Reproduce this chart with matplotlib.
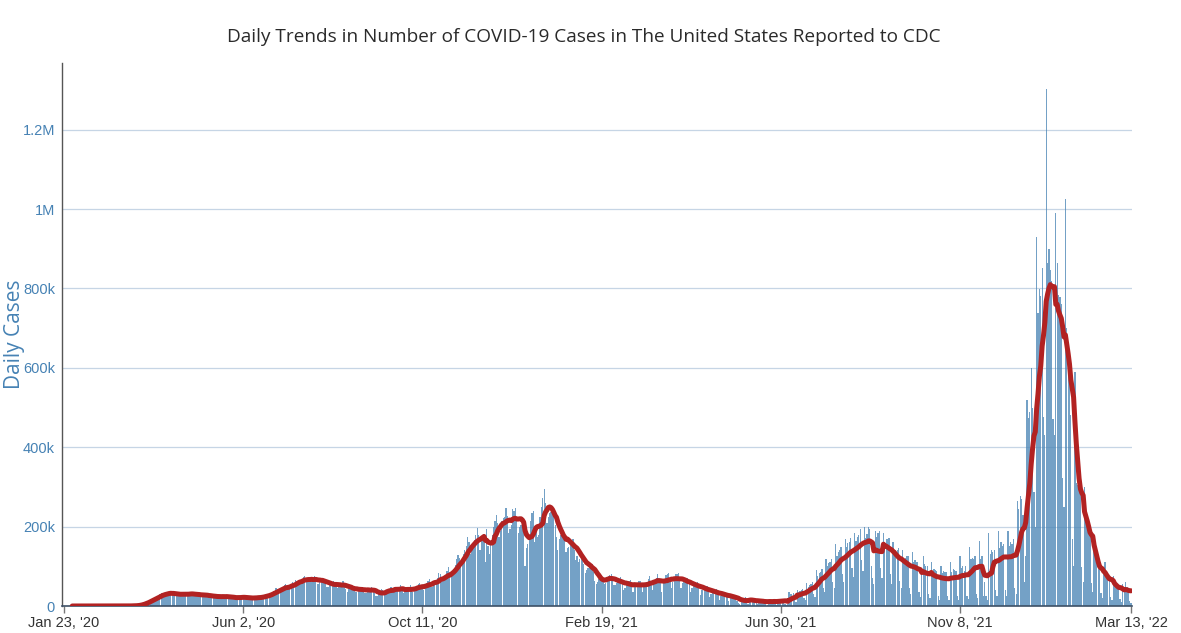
import numpy as np
import pandas as pd
import matplotlib
matplotlib.use("Agg")
import matplotlib.pyplot as plt

# daily reported cases (thousands), one list per month
jan20 = [0, 0, 0, 0, 0, 0, 0, 0, 0]
feb20 = [0, 0, 0, 0, 0, 0, 0, 0, 0, 0, 0, 0, 0, 0, 0, 0, 0, 0, 0, 0,
         0, 0, 0, 0, 0, 0, 0, 0, 0.01]
mar20 = [0.01, 0.02, 0.03, 0.04, 0.06, 0.1, 0.1, 0.12, 0.2, 0.3,
         0.4, 0.5, 0.7, 0.8, 1.0, 1.5, 2.0, 3.0, 4.5, 6.0,
         7.0, 8.5, 10.5, 11.5, 13.5, 16.5, 18.5, 19.5, 19.0, 21.0, 25.0]
apr20 = [26, 29, 32, 33, 28, 29, 32, 33, 34, 35, 31, 28, 26, 28, 30, 31, 33, 31, 27, 27,
         28, 30, 32, 36, 33, 27, 24, 26, 28, 31]
may20 = [33, 29, 25, 23, 25, 26, 29, 28, 27, 21, 20, 23, 23, 26, 27, 25, 21, 21, 22, 23,
         27, 25, 23, 20, 18, 19, 20, 23, 25, 24, 20]
jun20 = [20, 21, 20, 21, 24, 22, 18, 17, 19, 21, 22, 25, 25, 19, 19, 23, 25, 28, 31, 31,
         26, 27, 33, 37, 39, 45, 43, 38, 40, 43]
jul20 = [49, 53, 55, 47, 42, 46, 55, 60, 59, 66, 62, 58, 58, 64, 66, 74, 75, 66, 62, 60,
         64, 70, 69, 76, 68, 56, 56, 63, 65, 68, 68]
aug20 = [59, 48, 47, 54, 55, 58, 62, 56, 48, 45, 51, 54, 53, 63, 54, 42, 36, 44, 46, 46,
         49, 47, 35, 36, 38, 43, 45, 47, 43, 34, 33]
sep20 = [40, 40, 43, 49, 40, 32, 25, 24, 30, 35, 44, 40, 32, 33, 38, 38, 44, 48, 42, 35,
         48, 39, 38, 45, 53, 46, 34, 35, 39, 40]
oct20 = [45, 52, 48, 36, 40, 43, 50, 55, 57, 52, 44, 40, 50, 58, 63, 68, 58, 48, 58, 60,
         62, 71, 82, 80, 60, 64, 72, 78, 88, 97, 85]
nov20 = [75, 85, 92, 103, 118, 128, 120, 102, 113, 130, 140, 152, 175, 160, 130, 150, 158, 167, 180, 196,
         180, 142, 168, 178, 182, 112, 195, 150, 132, 160]
dec20 = [180, 200, 215, 230, 210, 175, 190, 215, 222, 225, 246, 228, 185, 195, 205, 245, 240, 248, 215, 185,
         200, 205, 225, 200, 100, 145, 155, 175, 215, 235, 240]
jan21 = [160, 200, 175, 180, 225, 250, 272, 295, 260, 210, 225, 235, 238, 240, 245, 205, 175, 140, 170, 180,
         190, 190, 170, 135, 145, 148, 155, 165, 168, 142, 115]
feb21 = [125, 112, 118, 125, 132, 105, 82, 90, 96, 98, 106, 105, 85, 63, 55, 60, 68, 70, 78, 70,
         56, 58, 70, 75, 78, 80, 66, 52]
mar21 = [52, 58, 66, 68, 72, 58, 40, 45, 55, 58, 62, 65, 52, 35, 50, 52, 58, 62, 63, 52,
         36, 50, 55, 60, 68, 75, 60, 40, 62, 62, 70]
apr21 = [80, 70, 62, 35, 60, 62, 78, 80, 84, 65, 45, 60, 68, 80, 80, 84, 62, 45, 58, 60,
         70, 68, 70, 55, 35, 45, 50, 60, 58, 60]
may21 = [45, 28, 40, 40, 48, 48, 50, 38, 22, 30, 33, 40, 40, 42, 28, 16, 25, 28, 32, 32,
         34, 22, 12, 20, 22, 25, 25, 26, 12, 7, 5]
jun21 = [12, 18, 20, 22, 12, 5, 14, 15, 17, 17, 18, 8, 4, 11, 13, 15, 15, 14, 6, 3,
         12, 14, 14, 15, 16, 5, 3, 14, 16, 17]
jul21 = [17, 18, 6, 3, 4, 36, 30, 30, 32, 14, 10, 40, 35, 38, 40, 42, 20, 14, 58, 48,
         54, 56, 60, 30, 22, 90, 75, 82, 86, 92, 45]
aug21 = [35, 118, 100, 108, 112, 118, 60, 45, 155, 125, 135, 140, 148, 80, 60, 168, 148, 158, 162, 172,
         95, 72, 185, 165, 175, 180, 195, 115, 88, 198, 172]
sep21 = [182, 198, 195, 100, 70, 55, 190, 175, 185, 190, 95, 70, 185, 160, 170, 168, 172, 80, 55, 160,
         138, 140, 142, 145, 62, 45, 140, 118, 122, 125]
oct21 = [125, 45, 30, 135, 110, 115, 112, 112, 35, 22, 85, 125, 105, 102, 100, 30, 20, 110, 88, 92,
         90, 88, 25, 16, 100, 82, 88, 86, 85, 24, 15]
nov21 = [110, 85, 92, 90, 88, 25, 16, 125, 95, 100, 88, 100, 26, 17, 148, 118, 122, 118, 125, 30,
         20, 165, 118, 125, 25, 60, 25, 15, 185, 130]
dec21 = [140, 135, 140, 40, 25, 190, 145, 160, 150, 155, 40, 25, 188, 150, 160, 155, 170, 45, 30, 265,
         245, 278, 270, 230, 60, 126, 520, 474, 490, 600, 500]
jan22 = [287, 200, 929, 738, 798, 780, 851, 476, 430, 1302, 864, 899, 846, 820, 470, 430, 989, 864, 783, 778,
         760, 322, 250, 1025, 700, 620, 590, 480, 169, 100, 590]
feb22 = [310, 305, 300, 290, 98, 60, 300, 230, 220, 205, 185, 58, 35, 140, 130, 120, 110, 105, 32, 20,
         95, 110, 80, 75, 70, 22, 14, 75]
mar22 = [60, 55, 52, 50, 18, 10, 55, 45, 60, 48, 40, 12, 8]

months = [jan20, feb20, mar20, apr20, may20, jun20, jul20, aug20, sep20, oct20, nov20, dec20,
          jan21, feb21, mar21, apr21, may21, jun21, jul21, aug21, sep21, oct21, nov21, dec21,
          jan22, feb22, mar22]
month_start = pd.date_range("2020-01-01", periods=len(months), freq="MS")
for m, vals in zip(month_start, months):
    expected = m.days_in_month
    if m == month_start[0]:
        expected = 9
    if m == month_start[-1]:
        expected = 13
    if len(vals) != expected:
        raise ValueError(f"{m:%b %Y}: {len(vals)} values, expected {expected}")

cases = np.concatenate(months) * 1000
dates = pd.date_range("2020-01-23", periods=len(cases), freq="D")
avg7 = pd.Series(cases, index=dates).rolling(7).mean()

tick_dates = pd.to_datetime(["2020-01-23", "2020-06-02", "2020-10-11", "2021-02-19",
                             "2021-06-30", "2021-11-08", "2022-03-13"])
tick_labels = ["Jan 23, '20", "Jun 2, '20", "Oct 11, '20", "Feb 19, '21",
               "Jun 30, '21", "Nov 8, '21", "Mar 13, '22"]
y_ticks = [0, 200e3, 400e3, 600e3, 800e3, 1e6, 1.2e6]
y_labels = ["0", "200k", "400k", "600k", "800k", "1M", "1.2M"]

fig = plt.figure(figsize=(11.81, 6.33), dpi=100)
ax = fig.add_axes([62 / 1181, 1 - 606 / 633, (1132 - 62) / 1181, (606 - 63) / 633])

ax.yaxis.grid(True, color="#c6d5e5", linewidth=0.9)
ax.set_axisbelow(True)
ax.bar(dates, cases, width=0.9, color="#4682b4", alpha=0.75, linewidth=0, zorder=2)
ax.plot(avg7.index, avg7.values, color="#b22222", linewidth=3.6, zorder=3,
        solid_capstyle="round", solid_joinstyle="round")

ax.set_xlim(dates[0] - pd.Timedelta(days=1.5), dates[-1] + pd.Timedelta(days=0.7))
ax.set_ylim(0, 1.368e6)

ax.set_xticks(tick_dates)
ax.set_xticklabels(tick_labels, fontsize=10.5, color="#333333", family="Liberation Sans")
ax.set_yticks(y_ticks)
ax.set_yticklabels(y_labels, fontsize=10.5, color="#4682b4", family="Liberation Sans")
ax.tick_params(axis="x", length=5, width=1, color="#777777", pad=2)
ax.tick_params(axis="y", length=0, pad=5)

for side in ["top", "right"]:
    ax.spines[side].set_visible(False)
ax.spines["left"].set_color("#555555")
ax.spines["left"].set_linewidth(1.0)
ax.spines["bottom"].set_color("#3d5066")
ax.spines["bottom"].set_linewidth(1.2)

fig.text(0.4945, 0.9415, "Daily Trends in Number of COVID-19 Cases in The United States Reported to CDC",
         ha="center", va="center", fontsize=13.7, color="#2a2a2a", family="Open Sans")
fig.text(0.012, 0.472, "Daily Cases", rotation=90, ha="center", va="center",
         fontsize=15, color="#4682b4", family="Open Sans")

fig.savefig("out.png", dpi=100)
